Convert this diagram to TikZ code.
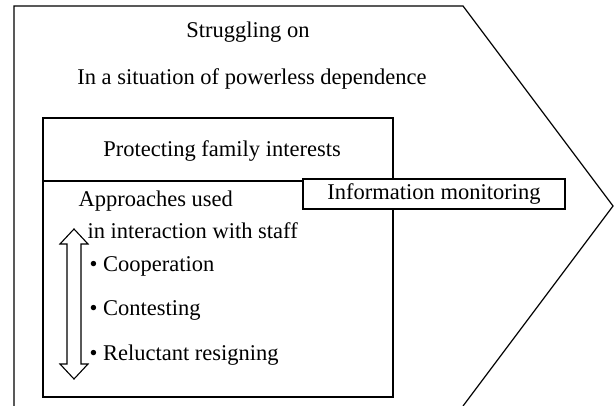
\documentclass[tikz,border=0pt]{standalone}
\usepackage{fontspec}
\setmainfont{Liberation Serif}
\begin{document}
\begin{tikzpicture}[x=1pt,y=-1pt,line width=1.2pt,
  txt/.style={inner sep=0pt,font=\fontsize{22.5}{27}\selectfont},
  lefttxt/.style={txt,anchor=west}]
\useasboundingbox (0,0) rectangle (615,406);
% outer chevron
\draw (14,406) -- (14,6) -- (463,6) -- (613,206) -- (463,406);
\node[txt] (t1) at (248,32) {Struggling on};
\node[txt] (t2) at (252,79) {In a situation of powerless dependence};
% inner box
\draw (43,118) rectangle (393,397);
\draw (43,181) -- (393,181);
\node[txt] (pfi) at (222,151) {Protecting family interests};
\node[lefttxt] (ap) at (78,201) {Approaches used};
\node[lefttxt] (ii) at (87,231) {in interaction with staff};
\node[lefttxt] (c1) at (89,266) {\textbullet\ Cooperation};
\node[lefttxt] (c2) at (89,310) {\textbullet\ Contesting};
\node[lefttxt] (c3) at (89,355) {\textbullet\ Reluctant resigning};
% double arrow
\draw[line width=1.1pt,fill=white] (74,229) -- (88,244) -- (81,244) -- (81,364) -- (88,364)
  -- (74,379) -- (60,364) -- (67,364) -- (67,244) -- (60,244) -- cycle;
% info box
\node[txt,draw,fill=white,minimum width=262pt,minimum height=30pt,line width=1.2pt] (im) at (434,194) {Information monitoring};
\end{tikzpicture}
\end{document}
